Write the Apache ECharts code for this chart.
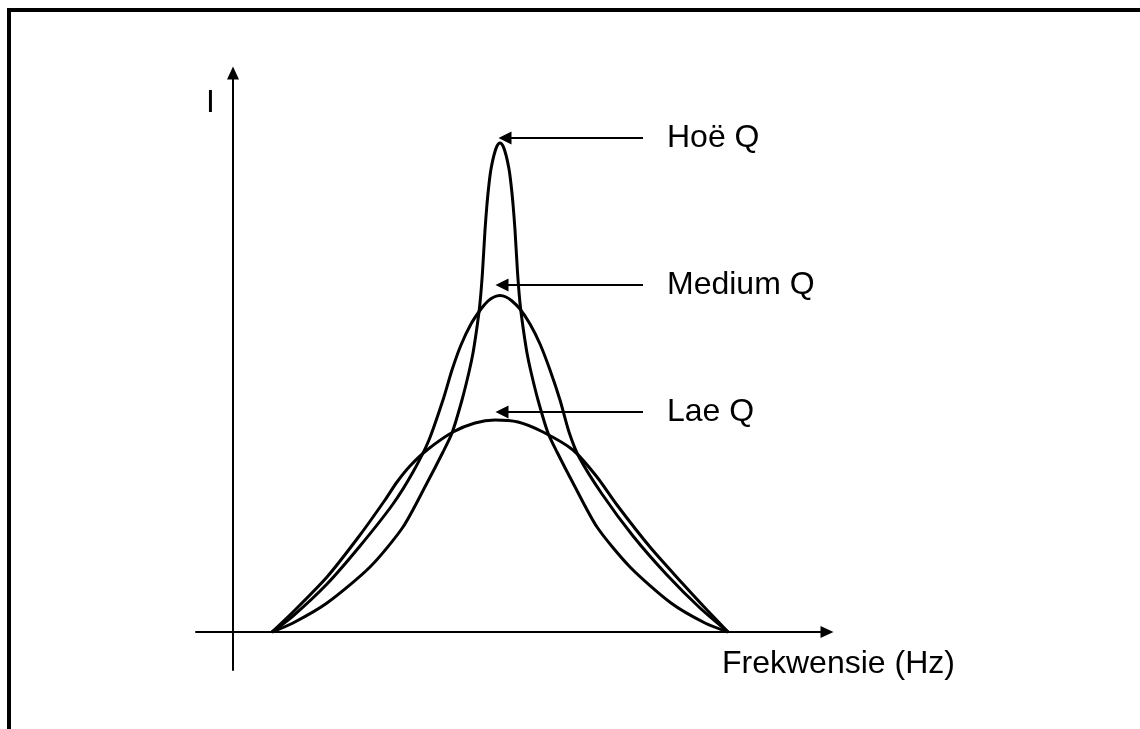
<!DOCTYPE html>
<html>
<head>
<meta charset="utf-8">
<script src="https://cdn.jsdelivr.net/npm/echarts@6/dist/echarts.min.js"></script>
<style>
html,body{margin:0;padding:0;background:#fff;}
#c{width:1140px;height:729px;}
</style>
</head>
<body>
<div id="c"></div>
<script>
// Curve data: [frequency, current] in arbitrary units
var lowQ = [[39,0],[60,20],[94,55],[127,97],[152,132],[164,150],[177,166],[194,182],[220,200],[242,209],[262,212],[285,210],[310,200],[340,182],[364,155],[384,127],[417,85],[450,48],[474,22],[495,0]];
var mediumQ = [[39,0],[60,16],[94,48],[127,86],[160,128],[180,160],[196,192],[210,232],[219,262],[228,287],[238,308],[248,323],[255,331],[261,335],[267,336.5],[273,335],[279,331],[287,323],[297,308],[307,288],[317,262],[327,232],[336,200],[346,175],[369,138],[400,96],[434,57],[467,24],[495,0]];
var highQ = [[39,0],[60,9],[94,29],[137,65],[170,105],[194,149],[210,180],[219,199],[229,232],[236,260],[240,279],[244,305],[247,329],[249.5,360],[252,402],[254,428],[256,448],[258,463],[261,477],[264,486],[267,489],[270,486],[273,477],[276,463],[278,448],[280,428],[282,402],[284.5,360],[287,329],[290,305],[294,279],[298,260],[305,232],[315,199],[324,180],[340,149],[364,105],[397,65],[438,29],[472,9],[495,0]];
// Annotation labels: name, arrow tip [x,y], arrow tail x
var labelNames = ['Hoë Q', 'Medium Q', 'Lae Q'];
var labelTips = [[272,494],[269,347],[269,220]];
var labelTailX = [410,410,410];
var yName = 'I';
var xName = 'Frekwensie (Hz)';

var FONT = 'Liberation Sans, Arial, sans-serif';
var chart = echarts.init(document.getElementById('c'));

function annot(i){
  return {
    silent: true,
    symbol: ['none','triangle'],
    symbolSize: 13,
    lineStyle: {color:'#000', width:2, type:'solid'},
    label: {show:true, position:'start', formatter: labelNames[i], color:'#000', fontSize:32, fontFamily:FONT, distance:24},
    emphasis: {disabled:true},
    data: [[{coord:[labelTailX[i], labelTips[i][1]]},{coord:labelTips[i]}]]
  };
}
function lineSeries(name, data, i){
  return {
    name: name, type:'line', data:data, smooth:0.25, showSymbol:false, silent:true,
    lineStyle:{color:'#000', width:3}, itemStyle:{color:'#000'},
    markLine: annot(i), z: 3
  };
}
chart.setOption({
  animation:false,
  backgroundColor:'#fff',
  graphic:[{type:'polyline', shape:{points:[[9,729],[9,10],[1140,10]]}, style:{stroke:'#000', lineWidth:4, fill:null}}],
  grid:{left:196, right:313, top:73, bottom:59},
  xAxis:{type:'value', min:-37, max:594, splitLine:{show:false}, axisTick:{show:false}, axisLabel:{show:false},
    axisLine:{onZero:true, lineStyle:{color:'#000', width:2}, symbol:['none','triangle'], symbolSize:[12,13]},
    name:xName, nameLocation:'end', nameGap:-105,
    nameTextStyle:{color:'#000', fontSize:32, fontFamily:FONT, align:'left', verticalAlign:'top', padding:[16,0,0,0]}},
  yAxis:{type:'value', min:-38, max:559, splitLine:{show:false}, axisTick:{show:false}, axisLabel:{show:false},
    axisLine:{onZero:true, lineStyle:{color:'#000', width:2}, symbol:['none','triangle'], symbolSize:[12,13]},
    name:yName, nameLocation:'end', nameGap:-46,
    nameTextStyle:{color:'#000', fontSize:32, fontFamily:FONT, align:'right', padding:[0,18,0,0]}},
  series:[lineSeries('Hoë Q', highQ, 0), lineSeries('Medium Q', mediumQ, 1), lineSeries('Lae Q', lowQ, 2)]
});
</script>
</body>
</html>
